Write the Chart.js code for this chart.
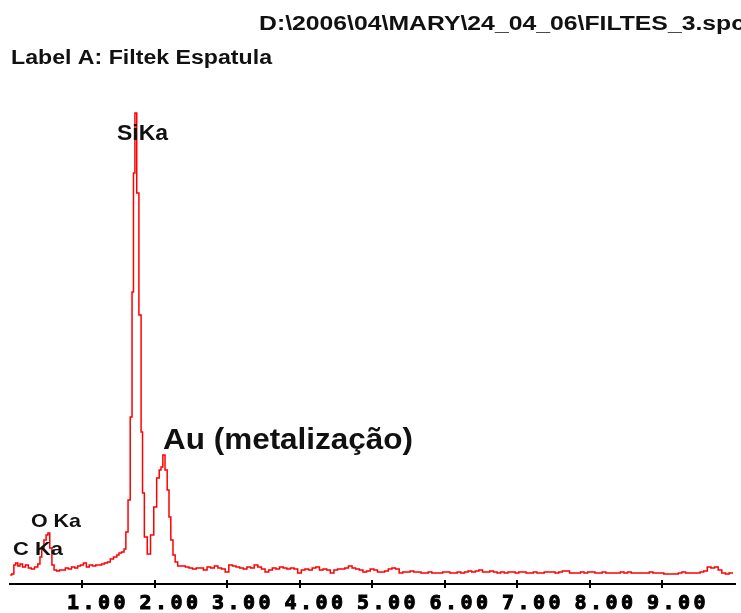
<!DOCTYPE html>
<html>
<head>
<meta charset="utf-8">
<script src="https://cdn.jsdelivr.net/npm/chart.js@4/dist/chart.umd.min.js"></script>
<style>
  html, body { margin: 0; padding: 0; background: #fff; }
  #wrap { width: 741px; height: 613px; position: relative; }
</style>
</head>
<body>
<div id="wrap"><canvas id="spectrum"></canvas></div>
<script>
// EDS spectrum, energy in keV, counts in arbitrary units
var energy = [
  0.01, 0.05, 0.07, 0.10, 0.13, 0.16, 0.20, 0.24, 0.28, 0.32, 0.37, 0.41, 0.43, 0.46, 0.49, 0.52, 0.54, 0.57, 0.60, 0.63,
  0.67, 0.71, 0.75, 0.79, 0.83, 0.88, 0.92, 0.96, 1.00, 1.04, 1.08, 1.12, 1.17, 1.21, 1.25, 1.29, 1.33, 1.37, 1.41, 1.46,
  1.50, 1.52, 1.57, 1.59, 1.62, 1.65, 1.68, 1.70, 1.72, 1.74, 1.77, 1.80, 1.83, 1.84, 1.88, 1.92, 1.97, 2.01, 2.05, 2.08,
  2.10, 2.13, 2.16, 2.19, 2.21, 2.24, 2.27, 2.30, 2.34,
  2.40, 2.45, 2.50, 2.55, 2.60, 2.65, 2.70, 2.75, 2.80, 2.85, 2.90, 2.95, 3.00, 3.05, 3.10, 3.15, 3.20, 3.25, 3.30, 3.35,
  3.40, 3.45, 3.50, 3.55, 3.60, 3.65, 3.70, 3.75, 3.80, 3.85, 3.90, 3.95, 4.00, 4.05, 4.10, 4.15, 4.20, 4.25, 4.30, 4.35,
  4.40, 4.45, 4.50, 4.55, 4.60, 4.65, 4.70, 4.75, 4.80, 4.85, 4.90, 4.95, 5.00, 5.05, 5.10, 5.15, 5.20, 5.25, 5.30, 5.35,
  5.40, 5.45, 5.50, 5.55, 5.60, 5.65, 5.70, 5.75, 5.80, 5.85, 5.90, 5.95, 6.00, 6.05, 6.10, 6.15, 6.20, 6.25, 6.30, 6.35,
  6.40, 6.45, 6.50, 6.55, 6.60, 6.65, 6.70, 6.75, 6.80, 6.85, 6.90, 6.95, 7.00, 7.05, 7.10, 7.15, 7.20, 7.25, 7.30, 7.35,
  7.40, 7.45, 7.50, 7.55, 7.60, 7.65, 7.70, 7.75, 7.80, 7.85, 7.90, 7.95, 8.00, 8.05, 8.10, 8.15, 8.20, 8.25, 8.30, 8.35,
  8.40, 8.45, 8.50, 8.55, 8.60, 8.65, 8.70, 8.75, 8.80, 8.85, 8.90, 8.95, 9.00, 9.05, 9.10, 9.15, 9.20, 9.25, 9.30, 9.35,
  9.40, 9.45, 9.50, 9.55, 9.60, 9.65, 9.70, 9.75, 9.80, 9.85, 9.90, 9.95, 9.98
];
var counts = [
  9, 10, 19, 21, 18, 20, 17, 19, 16, 15, 17, 20, 27, 36, 44, 49, 51, 36, 19, 14,
  13, 14, 14, 16, 15, 17, 16, 18, 19, 21, 17, 19, 18, 19, 19, 20, 21, 22, 25, 27,
  29, 31, 32, 35, 52, 84, 167, 292, 411, 471, 391, 269, 152, 91, 47, 30, 49, 77, 106, 114,
  117, 129, 114, 94, 67, 44, 29, 22, 18,
  18, 17, 16, 15, 16, 16, 14, 17, 16, 18, 16, 15, 12, 19, 18, 17, 16, 15, 17, 16,
  19, 17, 15, 12, 14, 16, 15, 17, 16, 15, 16, 15, 11, 14, 15, 14, 16, 17, 14, 15,
  14, 11, 14, 15, 15, 16, 18, 16, 15, 14, 12, 13, 15, 14, 12, 12, 13, 15, 16, 15,
  11, 12, 12, 13, 12, 12, 11, 11, 12, 11, 11, 11, 12, 12, 11, 11, 12, 11, 12, 13,
  12, 13, 14, 12, 12, 13, 12, 11, 12, 11, 12, 12, 11, 12, 12, 11, 11, 12, 11, 11,
  12, 12, 12, 11, 12, 13, 13, 11, 11, 11, 12, 11, 12, 12, 11, 11, 12, 11, 11, 11,
  11, 12, 11, 12, 11, 11, 11, 11, 11, 12, 11, 11, 11, 10, 10, 10, 10, 11, 12, 11,
  11, 11, 11, 12, 13, 17, 16, 17, 14, 11, 10, 11, 11
];
var tickValues = [1, 2, 3, 4, 5, 6, 7, 8, 9];
var fileName = 'D:\\2006\\04\\MARY\\24_04_06\\FILTES_3.spc';
var sampleLabel = 'Label A: Filtek Espatula';
var peakLabels = ['SiKa', 'O Ka', 'C Ka', 'Au (metalização)'];

// text placement (pixels): text, left x, baseline y, font, fitted width
var texts = [
  [fileName, 259, 30, 'bold 20px "Liberation Sans"', 486],
  [sampleLabel, 11, 64, 'bold 19.5px "Liberation Sans"', 261],
  [peakLabels[0], 117, 140, 'bold 22px "Liberation Sans"', 51],
  [peakLabels[1], 31, 527, 'bold 19px "Liberation Sans"', 50],
  [peakLabels[2], 13, 555, 'bold 19px "Liberation Sans"', 50],
  [peakLabels[3], 163, 449, 'bold 29px "Liberation Sans"', 250]
];

var points = energy.map(function (e, i) { return { x: e, y: counts[i] }; });

var spacing = {
  id: 'spacing',
  beforeDraw: function (chart) { chart.ctx.letterSpacing = '3.5px'; },
  beforeDatasetsDraw: function (chart) { chart.ctx.letterSpacing = '0px'; }
};

var extras = {
  id: 'extras',
  afterDraw: function (chart) {
    var ctx = chart.ctx;
    var xs = chart.scales.x;
    ctx.save();
    ctx.letterSpacing = '0px';
    // tick marks cross the axis line
    ctx.strokeStyle = '#000';
    ctx.lineWidth = 2;
    tickValues.forEach(function (v) {
      var px = Math.round(xs.getPixelForValue(v));
      ctx.beginPath();
      ctx.moveTo(px, xs.top - 4);
      ctx.lineTo(px, xs.top);
      ctx.stroke();
    });
    ctx.fillStyle = '#111';
    ctx.textBaseline = 'alphabetic';
    ctx.textAlign = 'left';
    texts.forEach(function (t) {
      ctx.font = t[3];
      var w = ctx.measureText(t[0]).width;
      ctx.save();
      ctx.translate(t[1], t[2]);
      ctx.scale(t[4] / w, 1);
      ctx.fillText(t[0], 0, 0);
      ctx.restore();
    });
    ctx.restore();
  }
};

var ctx = document.getElementById('spectrum').getContext('2d');
var spectrumChart = new Chart(ctx, {
  type: 'line',
  data: {
    datasets: [{
      data: points,
      borderColor: '#ff0000',
      borderWidth: 1.5,
      pointRadius: 0,
      stepped: 'middle',
      fill: false
    }]
  },
  options: {
    responsive: true,
    maintainAspectRatio: false,
    devicePixelRatio: 1,
    animation: false,
    layout: { padding: { top: 84, left: 9.5, right: 6.5, bottom: 0 } },
    plugins: { legend: { display: false }, tooltip: { enabled: false } },
    scales: {
      x: {
        type: 'linear',
        min: 0,
        max: 10,
        afterBuildTicks: function (scale) {
          scale.ticks = tickValues.map(function (v) { return { value: v }; });
        },
        afterFit: function (scale) { scale.height = 29; },
        ticks: {
          autoSkip: false,
          maxRotation: 0,
          padding: 4,
          labelOffset: 16,
          color: '#000',
          textStrokeColor: '#000',
          textStrokeWidth: 1,
          font: { family: '"DejaVu Sans Mono"', size: 20, weight: 'bold' },
          callback: function (v) { return Number(v).toFixed(2); }
        },
        grid: { drawOnChartArea: false, tickLength: 4, color: '#000', lineWidth: 2 },
        border: { color: '#000', width: 2 }
      },
      y: { display: false, min: 0, max: 500 }
    }
  },
  plugins: [spacing, extras]
});
</script>
</body>
</html>
